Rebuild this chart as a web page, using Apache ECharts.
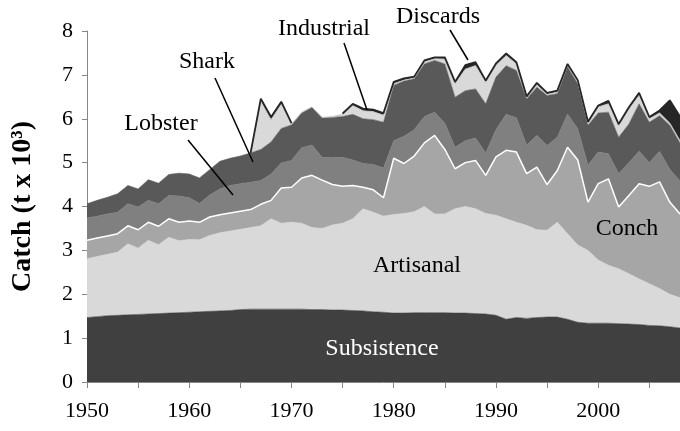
<!DOCTYPE html>
<html>
<head>
<meta charset="utf-8">
<script src="https://cdn.jsdelivr.net/npm/echarts@6/dist/echarts.min.js"></script>
<style>
  html, body { margin: 0; padding: 0; background: #fff; }
  #chart { width: 680px; height: 431px; }
</style>
</head>
<body>
<div id="chart"></div>
<script>
// catch by sector, thousand tonnes per year
var years = [
  "1950","1951","1952","1953","1954","1955","1956","1957","1958","1959",
  "1960","1961","1962","1963","1964","1965","1966","1967","1968","1969",
  "1970","1971","1972","1973","1974","1975","1976","1977","1978","1979",
  "1980","1981","1982","1983","1984","1985","1986","1987","1988","1989",
  "1990","1991","1992","1993","1994","1995","1996","1997","1998","1999",
  "2000","2001","2002","2003","2004","2005","2006","2007","2008"
];

var subsistence = [
  1.47,1.49,1.51,1.52,1.53,1.54,1.55,1.56,1.57,1.58,
  1.59,1.60,1.61,1.62,1.63,1.65,1.66,1.66,1.66,1.66,
  1.66,1.66,1.65,1.65,1.64,1.64,1.63,1.62,1.60,1.59,
  1.57,1.57,1.58,1.58,1.58,1.58,1.57,1.57,1.56,1.55,
  1.52,1.43,1.47,1.45,1.47,1.48,1.48,1.43,1.36,1.34,
  1.34,1.34,1.33,1.32,1.31,1.29,1.28,1.26,1.23
];
var artisanal = [
  1.34,1.37,1.40,1.44,1.62,1.51,1.68,1.57,1.73,1.64,
  1.66,1.64,1.73,1.78,1.81,1.83,1.86,1.90,2.06,1.96,
  1.98,1.96,1.87,1.85,1.94,1.98,2.09,2.33,2.27,2.19,
  2.25,2.27,2.30,2.42,2.25,2.25,2.38,2.43,2.39,2.29,
  2.28,2.29,2.17,2.12,2.00,1.98,2.16,1.95,1.76,1.66,
  1.44,1.32,1.25,1.15,1.04,0.95,0.85,0.74,0.69
];
var conch = [
  0.42,0.42,0.42,0.42,0.41,0.42,0.41,0.42,0.42,0.42,
  0.42,0.40,0.42,0.41,0.41,0.41,0.41,0.49,0.42,0.80,
  0.80,1.03,1.19,1.10,0.92,0.84,0.76,0.49,0.51,0.42,
  1.28,1.14,1.27,1.45,1.79,1.47,0.91,1.00,1.10,0.87,
  1.33,1.56,1.60,1.18,1.43,1.04,1.18,1.97,1.94,1.10,
  1.74,1.97,1.41,1.78,2.17,2.22,2.43,2.10,1.91
];
var lobster = [
  0.51,0.50,0.50,0.49,0.50,0.52,0.50,0.51,0.53,0.60,
  0.53,0.43,0.50,0.59,0.63,0.63,0.62,0.54,0.60,0.57,
  0.61,0.69,0.69,0.52,0.61,0.66,0.58,0.54,0.58,0.68,
  0.40,0.62,0.60,0.60,0.53,0.60,0.49,0.50,0.51,0.51,
  0.62,0.82,0.78,0.65,0.72,0.89,0.76,0.76,0.71,0.84,
  0.72,0.57,0.76,0.75,0.74,0.54,0.70,0.75,0.75
];
var shark = [
  0.32,0.36,0.38,0.42,0.42,0.41,0.47,0.47,0.48,0.52,
  0.54,0.58,0.58,0.63,0.62,0.63,0.67,0.71,0.73,0.79,
  0.81,0.79,0.86,0.90,0.92,0.93,1.04,1.02,1.02,1.04,
  1.26,1.26,1.16,1.20,1.18,1.35,1.14,1.14,1.12,1.12,
  1.20,1.11,1.08,1.05,1.10,1.14,0.99,1.07,1.03,0.91,
  0.89,0.95,0.83,0.88,1.08,0.92,0.81,1.00,0.87
];
var industrial = [
  null,null,null,null,null,null,null,null,null,null,
  null,null,null,null,null,null,0,1.10,0.51,0.55,
  0.02,0.02,0.01,0.01,0.02,0.05,0.20,0.18,0.18,0.16,
  0.04,0.02,0.02,0.05,0.04,0.11,0.31,0.49,0.53,0.49,
  0.27,0.23,0.15,0.03,0.06,0.03,0.04,0.04,0.05,0.05,
  0.14,0.19,0.26,0.34,0.20,0.08,0.06,0.05,0.05
];
var discards = [
  null,null,null,null,null,null,null,null,null,null,
  null,null,null,null,null,null,0,0.06,0.06,0.06,
  0.02,null,null,null,null,0.02,0.04,0.05,0.05,0.05,
  0.04,0.04,0.03,0.03,0.03,0.04,0.04,0.09,0.08,0.04,
  0.04,0.05,0.04,0.03,0.04,0.03,0.03,0.03,0.03,0.03,
  0.03,0.07,0.04,0.04,0.05,0.04,0.06,0.52,0.55
];

var serif = '"Liberation Serif", "Times New Roman", serif';

function layer(name, data, fill, line, lineWidth) {
  return {
    name: name,
    type: "line",
    stack: "catch",
    data: data,
    symbol: "none",
    silent: true,
    lineStyle: { color: line, width: lineWidth },
    areaStyle: { color: fill, opacity: 1 }
  };
}

function label(text, x, y, color) {
  return {
    type: "text",
    z: 100,
    style: {
      text: text, x: x, y: y,
      fill: color || "#000",
      font: '24px ' + serif,
      textAlign: "center",
      textVerticalAlign: "middle"
    }
  };
}

function pointer(x1, y1, x2, y2) {
  return {
    type: "line",
    z: 100,
    shape: { x1: x1, y1: y1, x2: x2, y2: y2 },
    style: { stroke: "#000", lineWidth: 1.5 }
  };
}

var chart = echarts.init(document.getElementById("chart"));
chart.setOption({
  animation: false,
  grid: { left: 87, right: 0, top: 31, bottom: 49 },
  xAxis: {
    type: "category",
    data: years,
    boundaryGap: false,
    axisLine: { lineStyle: { color: "#868686", width: 1 } },
    axisTick: { show: true, interval: 4, length: 6, lineStyle: { color: "#868686" } },
    axisLabel: { interval: 9, color: "#000", fontFamily: serif, fontSize: 22, margin: 18 },
    splitLine: { show: false }
  },
  yAxis: {
    type: "value",
    min: 0,
    max: 8,
    interval: 1,
    name: "Catch (t x 10³)",
    nameLocation: "middle",
    nameRotate: 90,
    nameGap: 50,
    nameTextStyle: { color: "#000", fontFamily: serif, fontSize: 28, fontWeight: "bold" },
    axisLine: { show: true, lineStyle: { color: "#868686", width: 1 } },
    axisTick: { show: true, length: 5, lineStyle: { color: "#868686" } },
    axisLabel: { color: "#000", fontFamily: serif, fontSize: 22, margin: 14 },
    splitLine: { show: false }
  },
  series: [
    layer("Subsistence", subsistence, "#404040", "#404040", 0.6),
    layer("Artisanal", artisanal, "#d9d9d9", "#d9d9d9", 0.6),
    layer("Conch", conch, "#a6a6a6", "#ffffff", 1.5),
    layer("Lobster", lobster, "#808080", "#808080", 0.6),
    layer("Shark", shark, "#595959", "#595959", 0.6),
    layer("Industrial", industrial, "#d9d9d9", "#c8c8c8", 1),
    layer("Discards", discards, "#262626", "#262626", 1.8)
  ],
  graphic: [
    label("Subsistence", 382, 349, "#ffffff"),
    label("Artisanal", 417, 266),
    label("Conch", 627, 229),
    label("Lobster", 161, 124),
    label("Shark", 207, 62),
    label("Industrial", 324, 29),
    label("Discards", 438, 17),
    pointer(188, 140, 233, 195),
    pointer(215, 78, 253, 162),
    pointer(344, 43, 367, 110),
    pointer(450, 30, 468, 60)
  ]
});
</script>
</body>
</html>
